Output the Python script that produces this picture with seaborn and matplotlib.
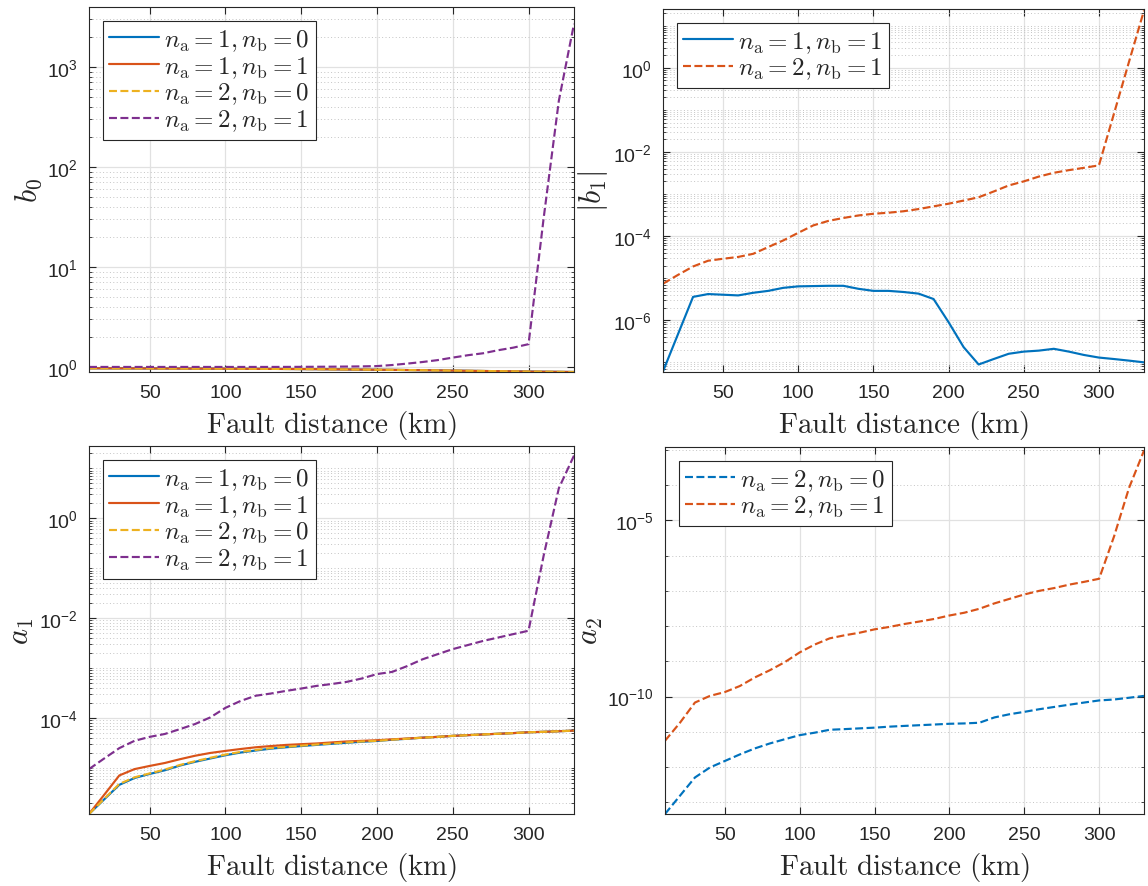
import matplotlib
matplotlib.use("Agg")
import numpy as np
import pandas as pd
import matplotlib.pyplot as plt
import seaborn as sns
from matplotlib.font_manager import FontProperties
from matplotlib.ticker import FixedLocator, LogLocator, NullFormatter, FuncFormatter

# ---------------- data ----------------
distance_km = [10, 20, 30, 40, 50, 60, 70, 80, 90, 100, 110, 120, 130, 140, 150, 160,
               170, 180, 190, 200, 210, 220, 230, 240, 250, 260, 270, 280, 290, 300,
               310, 320, 330]
x_ticks = [50, 100, 150, 200, 250, 300]

# b0
b0_na1_nb0 = [0.970, 0.969, 0.968, 0.967, 0.966, 0.965, 0.964, 0.963, 0.962, 0.961, 0.960,
              0.958, 0.956, 0.954, 0.952, 0.950, 0.947, 0.944, 0.941, 0.938, 0.935, 0.931,
              0.927, 0.923, 0.919, 0.915, 0.911, 0.907, 0.903, 0.899, 0.896, 0.893, 0.890]
b0_na1_nb1 = [0.970, 0.969, 0.968, 0.967, 0.966, 0.965, 0.964, 0.963, 0.962, 0.961, 0.960,
              0.958, 0.956, 0.954, 0.952, 0.950, 0.947, 0.944, 0.941, 0.938, 0.935, 0.931,
              0.927, 0.923, 0.919, 0.915, 0.911, 0.907, 0.903, 0.899, 0.896, 0.893, 0.890]
b0_na2_nb0 = [0.970, 0.969, 0.968, 0.967, 0.966, 0.965, 0.964, 0.963, 0.962, 0.961, 0.960,
              0.958, 0.956, 0.954, 0.952, 0.950, 0.947, 0.944, 0.941, 0.938, 0.935, 0.931,
              0.927, 0.923, 0.919, 0.915, 0.911, 0.907, 0.903, 0.899, 0.896, 0.893, 0.890]
b0_na2_nb1 = [1.000, 1.000, 1.000, 1.000, 1.000, 1.000, 1.000, 1.000, 1.000, 1.000, 1.000,
              1.000, 1.000, 1.001, 1.002, 1.004, 1.006, 1.009, 1.013, 1.020, 1.045, 1.080,
              1.120, 1.170, 1.240, 1.310, 1.370, 1.470, 1.560, 1.690, 31.0, 460.0, 2700.0]

# |b1|
b1_na1_nb1 = [6.1e-8, 4.7e-7, 3.6e-6, 4.2e-6, 4.05e-6, 3.9e-6, 4.5e-6, 5.0e-6, 5.9e-6, 6.4e-6,
              6.5e-6, 6.6e-6, 6.6e-6, 5.6e-6, 5.0e-6, 5.0e-6, 4.7e-6, 4.3e-6, 3.2e-6, 9.0e-7,
              2.3e-7, 8.9e-8, 1.2e-7, 1.6e-7, 1.8e-7, 1.9e-7, 2.1e-7, 1.8e-7, 1.5e-7, 1.3e-7,
              1.2e-7, 1.1e-7, 1.0e-7]
b1_na2_nb1 = [7.4e-6, 1.2e-5, 1.9e-5, 2.6e-5, 2.9e-5, 3.2e-5, 3.8e-5, 5.5e-5, 7.9e-5, 1.2e-4,
              1.8e-4, 2.3e-4, 2.7e-4, 3.1e-4, 3.4e-4, 3.6e-4, 3.9e-4, 4.4e-4, 5.1e-4, 5.9e-4,
              7.0e-4, 8.4e-4, 1.15e-3, 1.6e-3, 2.0e-3, 2.6e-3, 3.2e-3, 3.7e-3, 4.2e-3, 4.8e-3,
              8.1e-2, 1.38, 23.0]

# a1
a1_na1_nb0 = [1.2e-6, 2.35e-6, 4.6e-6, 6.3e-6, 7.6e-6, 9.0e-6, 1.12e-5, 1.33e-5, 1.55e-5, 1.8e-5,
              2.04e-5, 2.24e-5, 2.44e-5, 2.6e-5, 2.75e-5, 2.9e-5, 3.05e-5, 3.2e-5, 3.35e-5, 3.48e-5,
              3.68e-5, 3.85e-5, 4.05e-5, 4.2e-5, 4.4e-5, 4.55e-5, 4.7e-5, 4.85e-5, 5.0e-5, 5.2e-5,
              5.3e-5, 5.45e-5, 5.6e-5]
a1_na1_nb1 = [1.2e-6, 2.9e-6, 7.1e-6, 9.5e-6, 1.1e-5, 1.26e-5, 1.5e-5, 1.76e-5, 2.0e-5, 2.2e-5,
              2.4e-5, 2.6e-5, 2.75e-5, 2.9e-5, 3.0e-5, 3.1e-5, 3.25e-5, 3.4e-5, 3.5e-5, 3.6e-5,
              3.75e-5, 3.9e-5, 4.05e-5, 4.2e-5, 4.4e-5, 4.55e-5, 4.7e-5, 4.85e-5, 5.0e-5, 5.2e-5,
              5.3e-5, 5.45e-5, 5.6e-5]
a1_na2_nb0 = [1.2e-6, 2.4e-6, 4.8e-6, 6.5e-6, 7.8e-6, 9.3e-6, 1.15e-5, 1.37e-5, 1.6e-5, 1.86e-5,
              2.1e-5, 2.3e-5, 2.5e-5, 2.65e-5, 2.8e-5, 2.95e-5, 3.1e-5, 3.25e-5, 3.4e-5, 3.5e-5,
              3.7e-5, 3.85e-5, 4.05e-5, 4.2e-5, 4.4e-5, 4.55e-5, 4.7e-5, 4.85e-5, 5.0e-5, 5.2e-5,
              5.3e-5, 5.45e-5, 5.6e-5]
a1_na2_nb1 = [9.5e-6, 1.55e-5, 2.5e-5, 3.5e-5, 4.2e-5, 4.8e-5, 6.0e-5, 7.6e-5, 1.03e-4, 1.6e-4,
              2.2e-4, 2.8e-4, 3.1e-4, 3.5e-4, 3.9e-4, 4.4e-4, 4.8e-4, 5.3e-4, 6.2e-4, 7.6e-4,
              8.4e-4, 1.1e-3, 1.5e-3, 1.9e-3, 2.4e-3, 2.9e-3, 3.5e-3, 4.1e-3, 4.8e-3, 5.6e-3,
              0.18, 4.0, 18.0]

# a2
a2_na2_nb0 = [4.7e-14, 1.55e-13, 5.1e-13, 9.8e-13, 1.5e-12, 2.3e-12, 3.4e-12, 4.7e-12, 6.2e-12,
              8.1e-12, 9.5e-12, 1.15e-11, 1.2e-11, 1.26e-11, 1.32e-11, 1.41e-11, 1.48e-11,
              1.55e-11, 1.62e-11, 1.7e-11, 1.74e-11, 1.82e-11, 2.57e-11, 3.16e-11, 3.7e-11,
              4.4e-11, 5.1e-11, 5.9e-11, 6.8e-11, 7.8e-11, 8.3e-11, 9.3e-11, 1.05e-10]
a2_na2_nb1 = [5.6e-12, 1.82e-11, 6.8e-11, 1.05e-10, 1.35e-10, 2.0e-10, 3.5e-10, 5.6e-10, 9.5e-10,
              1.8e-9, 3.0e-9, 4.5e-9, 5.5e-9, 6.5e-9, 8.1e-9, 9.5e-9, 1.15e-8, 1.35e-8, 1.6e-8,
              2.0e-8, 2.4e-8, 3.1e-8, 4.4e-8, 5.9e-8, 7.9e-8, 1.0e-7, 1.2e-7, 1.5e-7, 1.8e-7,
              2.2e-7, 3.5e-6, 8.3e-5, 9.5e-4]

lbl_10 = r"$n_\mathrm{a} = 1, n_\mathrm{b} = 0$"
lbl_11 = r"$n_\mathrm{a} = 1, n_\mathrm{b} = 1$"
lbl_20 = r"$n_\mathrm{a} = 2, n_\mathrm{b} = 0$"
lbl_21 = r"$n_\mathrm{a} = 2, n_\mathrm{b} = 1$"

C_BLUE, C_ORANGE, C_YELLOW, C_PURPLE = "#0072BD", "#D95319", "#EDB120", "#7E2F8E"

# ---------------- style ----------------
sns.set_style("ticks")
plt.rcParams.update({
    "font.family": ["Liberation Sans", "DejaVu Sans"],
    "mathtext.fontset": "custom",
    "mathtext.rm": "Liberation Sans",
    "mathtext.it": "Liberation Sans:italic",
    "mathtext.bf": "Liberation Sans:bold",
    "axes.edgecolor": "#262626",
    "axes.linewidth": 0.8,
})

W, H = 1148, 887
fig = plt.figure(figsize=(W / 100, H / 100), dpi=100)

def frac(l, t, r, b):
    return [l / W, 1 - b / H, (r - l) / W, (b - t) / H]

ax_tl = fig.add_axes(frac(89, 8, 574, 373))
ax_tr = fig.add_axes(frac(663, 10, 1144, 373))
ax_bl = fig.add_axes(frac(89, 447, 574, 815))
ax_br = fig.add_axes(frac(665, 448, 1144, 815))

LW = 1.55

def draw(ax, series):
    for y, color, ls, label in series:
        df = pd.DataFrame({"distance": distance_km, "value": y})
        sns.lineplot(data=df, x="distance", y="value", ax=ax, color=color,
                     linestyle=ls, linewidth=LW, label=label, sort=False)

draw(ax_tl, [(b0_na1_nb0, C_BLUE, "-", lbl_10),
             (b0_na1_nb1, C_ORANGE, "-", lbl_11),
             (b0_na2_nb0, C_YELLOW, "--", lbl_20),
             (b0_na2_nb1, C_PURPLE, "--", lbl_21)])
draw(ax_tr, [(b1_na1_nb1, C_BLUE, "-", lbl_11),
             (b1_na2_nb1, C_ORANGE, "--", lbl_21)])
draw(ax_bl, [(a1_na1_nb0, C_BLUE, "-", lbl_10),
             (a1_na1_nb1, C_ORANGE, "-", lbl_11),
             (a1_na2_nb0, C_YELLOW, "--", lbl_20),
             (a1_na2_nb1, C_PURPLE, "--", lbl_21)])
draw(ax_br, [(a2_na2_nb0, C_BLUE, "--", lbl_20),
             (a2_na2_nb1, C_ORANGE, "--", lbl_21)])

pow_fmt = FuncFormatter(lambda v, p: r"$\mathdefault{10^{%d}}$" % int(round(np.log10(v))))

setup = [
    (ax_tl, r"$b_0$", (0.89, 3980), [1, 10, 100, 1000], np.arange(1, 10)),
    (ax_tr, r"$|b_1|$", (5.9e-8, 25), [1e-6, 1e-4, 1e-2, 1], np.arange(1, 10)),
    (ax_bl, r"$a_1$", (1.2e-6, 28), [1e-4, 1e-2, 1], np.arange(1, 10)),
    (ax_br, r"$a_2$", (4.7e-14, 1.2e-3), [1e-10, 1e-5], (1.0,)),
]

leg_prop = FontProperties(family="DejaVu Serif", size=18, math_fontfamily="cm")

for ax, ylab, ylim, majors, subs in setup:
    ax.set_yscale("log")
    ax.set_xlim(10, 330)
    ax.set_ylim(*ylim)
    ax.xaxis.set_major_locator(FixedLocator(x_ticks))
    ax.yaxis.set_major_locator(FixedLocator(majors))
    ax.yaxis.set_major_formatter(pow_fmt)
    ax.yaxis.set_minor_locator(LogLocator(base=10, subs=subs, numticks=200))
    ax.yaxis.set_minor_formatter(NullFormatter())
    ax.set_axisbelow(True)
    ax.grid(True, which="major", axis="both", color="#e1e1e1", linewidth=0.9, linestyle="-")
    ax.grid(True, which="minor", axis="y", color="#c4c4c4", linewidth=0.7,
            linestyle=(0, (1, 2.5)))
    ax.tick_params(which="both", direction="in", top=True, right=True,
                   colors="#262626", labelsize=14)
    ax.tick_params(axis="x", which="major", pad=9)
    ax.tick_params(axis="y", which="major", pad=8)
    ax.tick_params(which="major", length=5, width=0.8)
    ax.tick_params(which="minor", length=2.5, width=0.6)
    for sp in ax.spines.values():
        sp.set_visible(True)
        sp.set_color("#262626")
        sp.set_linewidth(0.8)
    ax.set_xlabel(r"$\mathrm{Fault\ distance\ (km)}$", fontsize=21,
                  math_fontfamily="cm", color="#262626", labelpad=5)
    ax.set_ylabel(ylab, fontsize=22, math_fontfamily="cm", color="#262626", labelpad=2)
    leg = ax.legend(loc="upper left", prop=leg_prop, frameon=True, fancybox=False,
                    edgecolor="#262626", framealpha=1, borderaxespad=0.55,
                    handlelength=2.0, handletextpad=0.2, labelspacing=0.05,
                    borderpad=0.25)
    leg.get_frame().set_linewidth(0.8)

fig.savefig("out.png", dpi=100)
